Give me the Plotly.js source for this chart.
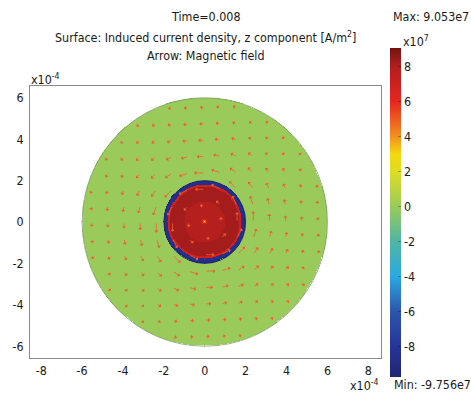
<!DOCTYPE html>
<html><head><meta charset="utf-8">
<script src="https://cdn.plot.ly/plotly-3.0.1.min.js"></script>
<style>html,body{margin:0;padding:0;background:#fff}</style>
</head><body><div id="chart" style="width:471px;height:398px"></div>
<script>
// ---- Data ----
// Induced current density Jz (A/m^2) in radial bands (outer radius of each band, m)
const jBandOuterR = [0.04e-4, 0.09e-4, 0.15e-4, 1.0e-4, 1.70e-4, 1.80e-4, 1.95e-4, 2.0e-4, 6.0e-4];
const jBandValue  = [3.0e7,   5.0e7,   6.8e7,   7.8e7,  8.2e7,   6.9e7,   -8.6e7,  -9.6e7, 0];
const domainRadius = 6.0e-4;
const conductorRadius = 2.0e-4;
const jMin = -9.756e7;
const jMax = 9.053e7;

// Colour map (value -> colour)
const csValues = [-9.756e7, -8e7, -6e7, -4e7, -2e7, 0, 2e7, 3e7, 4e7, 6e7, 8e7, 9.053e7];
const csColors = ['#1f2670', '#26359a', '#2b56ad', '#2aa9e2', '#4fb6a2', '#9acb5a', '#dedd22', '#f6d80e', '#f29020', '#e6261e', '#b01e1e', '#761212'];

// Arrow sampling grid (m) and relative magnetic-field magnitude vs radius
const arrowGrid = [-5.53e-4, -4.74e-4, -3.95e-4, -3.16e-4, -2.37e-4, -1.58e-4, -0.79e-4, 0, 0.79e-4, 1.58e-4, 2.37e-4, 3.16e-4, 3.95e-4, 4.74e-4, 5.53e-4];
const bProfileR   = [0, 0.8e-4, 1.2e-4, 1.6e-4, 2.0e-4, 2.5e-4, 3.0e-4, 4.0e-4, 5.0e-4, 6.0e-4];
const bProfileMag = [0, 0.40,   0.60,   0.80,   1.0,    0.82,   0.68,   0.52,   0.42,   0.36];

// Tick labels
const axisTickVals = [-8e-4, -6e-4, -4e-4, -2e-4, 0, 2e-4, 4e-4, 6e-4, 8e-4];
const axisTickText = ['-8', '-6', '-4', '-2', '0', '2', '4', '6', '8'];
const cbTickVals = [-8e7, -6e7, -4e7, -2e7, 0, 2e7, 4e7, 6e7, 8e7];
const cbTickText = ['-8', '-6', '-4', '-2', '0', '2', '4', '6', '8'];

// ---- Build surface grid ----
const step = 0.05e-4;
const n = Math.round(2 * domainRadius / step) + 1;
const gx = [];
for (let i = 0; i < n; i++) gx.push(-domainRadius + i * step);
function jAt(r) {
  for (let k = 0; k < jBandOuterR.length; k++) if (r <= jBandOuterR[k]) return jBandValue[k];
  return null;
}
const z = [];
for (let j = 0; j < n; j++) {
  const row = [];
  for (let i = 0; i < n; i++) {
    const r = Math.hypot(gx[i], gx[j]);
    row.push(r <= domainRadius ? jAt(r) : null);
  }
  z.push(row);
}
const colorscale = csValues.map((v, k) => [(v - jMin) / (jMax - jMin), csColors[k]]);

// ---- Arrows ----
function bAt(r) {
  for (let k = 1; k < bProfileR.length; k++) {
    if (r <= bProfileR[k]) {
      const f = (r - bProfileR[k - 1]) / (bProfileR[k] - bProfileR[k - 1]);
      return bProfileMag[k - 1] + f * (bProfileMag[k] - bProfileMag[k - 1]);
    }
  }
  return bProfileMag[bProfileMag.length - 1];
}
const arrowScale = 0.6e-4;
const annotations = [];
for (const py of arrowGrid) for (const px of arrowGrid) {
  const r = Math.hypot(px, py);
  if (r > 5.95e-4 || r < 1e-9) continue;
  const L = arrowScale * bAt(r);
  const dx = -py / r, dy = px / r;
  annotations.push({
    xref: 'x', yref: 'y', axref: 'x', ayref: 'y',
    ax: px, ay: py, x: px + dx * L, y: py + dy * L,
    text: '', showarrow: true, arrowhead: 1, arrowsize: 0.9, arrowwidth: 0.8,
    arrowcolor: '#ee5e36', standoff: 0, startstandoff: 0
  });
}

const txt = '#1a1a1a';
const F = 'DejaVu Sans Condensed, Liberation Sans, sans-serif';
const FS = 12.4;
function paperAnn(text, x, y, xanchor) {
  return { xref: 'paper', yref: 'paper', x: x, y: y, xanchor: xanchor || 'center', yanchor: 'middle',
           text: text, showarrow: false, font: { family: F, size: FS, color: txt } };
}
// pixel -> paper helpers (plot area: x 30..381, y 86..358)
const px2x = p => (p - 30) / 351;
const px2y = p => (358 - p) / 272;
annotations.push(paperAnn('Time=0.008', 0.5, px2y(16)));
annotations.push(paperAnn('Surface: Induced current density, z component [A/m<sup>2</sup>]', 0.5, px2y(37)));
annotations.push(paperAnn('Arrow: Magnetic field', 0.5, px2y(56)));
annotations.push(paperAnn('Max: 9.053e7', px2x(391), px2y(16), 'left'));
annotations.push(paperAnn('Min: -9.756e7', px2x(392), px2y(384), 'left'));
annotations.push(paperAnn('x10<sup>7</sup>', px2x(401), px2y(41), 'left'));
annotations.push(paperAnn('x10<sup>-4</sup>', px2x(29), px2y(79), 'left'));
annotations.push(paperAnn('x10<sup>-4</sup>', px2x(348), px2y(385), 'left'));

const trace = {
  type: 'heatmap', x: gx, y: gx, z: z, zmin: jMin, zmax: jMax, zsmooth: false,
  colorscale: colorscale, hoverinfo: 'skip',
  colorbar: {
    thickness: 10.5, thicknessmode: 'pixels',
    len: (377 - 48) / 272, lenmode: 'fraction',
    y: px2y(377), yanchor: 'bottom', x: px2x(390.3), xanchor: 'left',
    xpad: 0, ypad: 0, outlinewidth: 0,
    tickmode: 'array', tickvals: cbTickVals, ticktext: cbTickText,
    ticks: 'inside', ticklen: 3, tickcolor: 'rgba(0,0,0,0.3)',
    tickfont: { family: F, size: FS, color: txt }
  }
};

const axisCommon = {
  showgrid: false, zeroline: false, showline: true, mirror: true,
  linecolor: '#8a8a8a', linewidth: 1, ticks: '',
  tickmode: 'array', tickvals: axisTickVals, ticktext: axisTickText,
  tickfont: { family: F, size: FS, color: txt }
};

const layout = {
  width: 471, height: 398,
  margin: { l: 30, r: 90, t: 86, b: 40 },
  paper_bgcolor: '#ffffff', plot_bgcolor: '#ffffff',
  showlegend: false,
  xaxis: Object.assign({}, axisCommon, { range: [-8.55e-4, 8.62e-4], ticklabelstandoff: 1 }),
  yaxis: Object.assign({}, axisCommon, { range: [-6.57e-4, 6.57e-4], ticklabelstandoff: 3 }),
  shapes: [
    { type: 'circle', xref: 'x', yref: 'y', x0: -domainRadius, y0: -domainRadius, x1: domainRadius, y1: domainRadius,
      line: { color: '#7b9a66', width: 0.8 } },
    { type: 'circle', xref: 'x', yref: 'y', x0: -conductorRadius, y0: -conductorRadius, x1: conductorRadius, y1: conductorRadius,
      line: { color: '#232c7a', width: 1 } }
  ],
  annotations: annotations
};

Plotly.newPlot('chart', [trace], layout, { displayModeBar: false, staticPlot: true });
</script>
</body></html>
